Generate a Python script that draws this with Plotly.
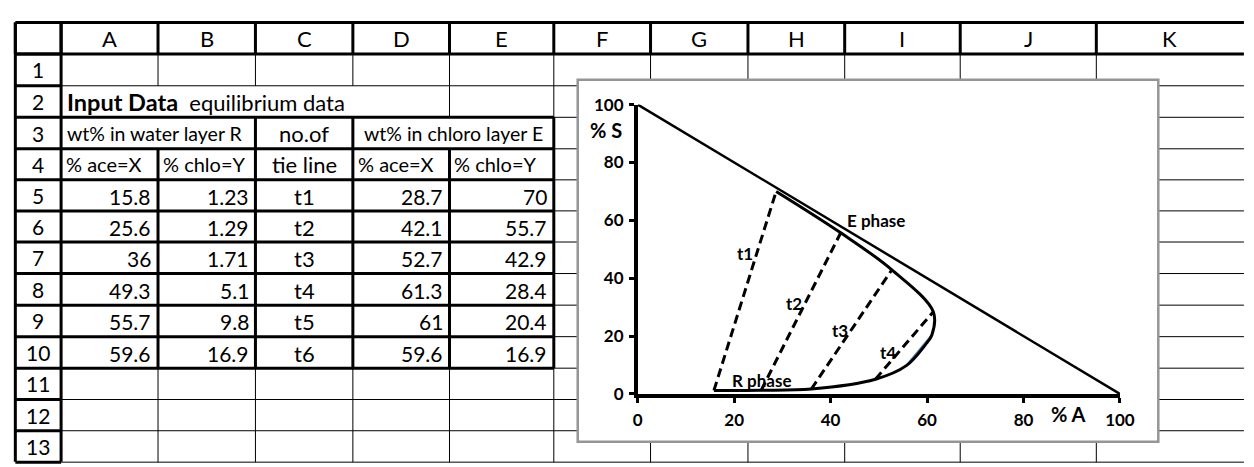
import plotly.graph_objects as go

# ---------------- data ----------------
# equilibrium data, water layer R
r_ace = [15.8, 25.6, 36, 49.3, 55.7, 59.6]
r_chlo = [1.23, 1.29, 1.71, 5.1, 9.8, 16.9]
# tie line names
tie_names = ["t1", "t2", "t3", "t4", "t5", "t6"]
# equilibrium data, chloroform layer E
e_ace = [28.7, 42.1, 52.7, 61.3, 61, 59.6]
e_chlo = [70, 55.7, 42.9, 28.4, 20.4, 16.9]

# pure-component corners of the right-triangle diagram (A = 100 %, S = 100 %)
corner_a = [0, 100]
corner_s = [100, 0]

x_ticks = [0, 20, 40, 60, 80, 100]
y_ticks = [0, 20, 40, 60, 80, 100]

col_letters = ["A", "B", "C", "D", "E", "F", "G", "H", "I", "J", "K"]
row_numbers = list(range(1, 14))

title_bold = "Input Data"
title_rest = "equilibrium data"
group_r = "wt% in water layer R"
group_tie = "no.of"
group_e = "wt% in chloro layer E"
sub_heads = ["% ace=X", "% chlo=Y", "tie line", "% ace=X", "% chlo=Y"]

# ---------------- layout geometry (pixels of the 1254x467 page) ----------------
W, H = 1254, 467
COL_EDGES = [10.5, 57, 155.5, 254.5, 353.5, 451.7, 557.7, 656, 755, 853.3, 970.7, 1109, 1257]
ROW_EDGES = [12, 45, 78.3, 111.3, 144.3, 176.8, 209.3, 241.9, 274.9, 308, 341, 374, 406.8, 439.5, 472.4]
CHART_BOX = (582, 72, 1172, 451)
PLOT_X = (643, 1133)      # page pixel of x=0 and x=100
PLOT_Y = (401, 98)        # page pixel of y=0 and y=100

FONT = "Lato"
TEXT_SIZE = 22
NUM_SIZE = 21
GROUP_SIZE = 19.5
SUB_SIZE = 20
THICK = 3
THIN = 1


def px(x):
    return x / W


def py(y):
    return 1 - y / H


shapes = []


def hline(y, x0, x1, w):
    shapes.append(dict(type="line", xref="paper", yref="paper", x0=px(x0), x1=px(x1),
                       y0=py(y), y1=py(y), line=dict(color="black", width=w), layer="below"))


def vline(x, y0, y1, w):
    shapes.append(dict(type="line", xref="paper", yref="paper", x0=px(x), x1=px(x),
                       y0=py(y0), y1=py(y1), line=dict(color="black", width=w), layer="below"))


C = COL_EDGES
R = ROW_EDGES
right = W + 5
bottom = H + 5

# thin cell grid
for k in range(2, len(R)):
    hline(R[k], C[1], right, THIN)
for j in range(2, len(C) - 1):
    for r in range(1, len(R) - 1):
        y0, y1 = R[r], R[r + 1]
        if r == 2 and j in (2, 3, 4):   # row 2 text overflow A..D
            continue
        if r == 3 and j in (2, 5):      # row 3 merged A:B and D:E
            continue
        vline(C[j], y0, y1, THIN)

# header row
hline(R[0], C[0], right, THICK)
hline(R[1], C[0], right, THICK)
for j in range(0, len(C) - 1):
    vline(C[j], R[0], R[1], THICK)
# row header column
vline(C[0], R[0], bottom, THICK)
vline(C[1], R[0], bottom, THICK)
for k in range(1, len(R)):
    hline(R[k], C[0], C[1], THICK)
# table borders (rows 3..10, columns A..E)
for k in range(3, 12):
    hline(R[k], C[1], C[6], THICK)
vline(C[6], R[3], R[11], THICK)
for j in (3, 4):
    vline(C[j], R[3], R[4], THICK)
for j in (2, 3, 4, 5):
    vline(C[j], R[4], R[11], THICK)

# chart area box
shapes.append(dict(type="rect", xref="paper", yref="paper",
                   x0=px(CHART_BOX[0]), x1=px(CHART_BOX[2]),
                   y0=py(CHART_BOX[3]), y1=py(CHART_BOX[1]),
                   fillcolor="white", line=dict(color="#959595", width=2.5), layer="below"))

annotations = []


def cell_text(text, x, y, anchor="center", size=TEXT_SIZE):
    annotations.append(dict(text=text, x=px(x), y=py(y), xref="paper", yref="paper",
                            xanchor=anchor, yanchor="middle", showarrow=False,
                            font=dict(family=FONT, size=size, color="black")))


def mid(a, b):
    return (a + b) / 2


# column letters
for i, letter in enumerate(col_letters):
    cell_text(letter, mid(C[i + 1], C[i + 2]), mid(R[0], R[1]))
# row numbers
for i, n in enumerate(row_numbers):
    cell_text(str(n), mid(C[0], C[1]), mid(R[i + 1], R[i + 2]), size=NUM_SIZE)

# row 2 title
cell_text("<b><span style='font-size:23.5px'>" + title_bold + "</span></b>\u00a0\u00a0" + title_rest,
          C[1] + 4, mid(R[2], R[3]), anchor="left")
# row 3 group headers
cell_text(group_r, mid(C[1], C[3]) - 3, mid(R[3], R[4]), size=GROUP_SIZE)
cell_text(group_tie, mid(C[3], C[4]), mid(R[3], R[4]))
cell_text(group_e, mid(C[4], C[6]), mid(R[3], R[4]), size=GROUP_SIZE)
# row 4 sub headers
for j, head in enumerate(sub_heads):
    if j == 2:
        cell_text(head, mid(C[3], C[4]), mid(R[4], R[5]))
    else:
        cell_text(head, C[j + 1] + 3, mid(R[4], R[5]), anchor="left", size=SUB_SIZE)


def fmt(v):
    return f"{v:g}"


# rows 5..10 values
for i in range(len(tie_names)):
    yc = mid(R[i + 5], R[i + 6]) + 1
    cell_text(fmt(r_ace[i]), C[2] - 5, yc, anchor="right", size=NUM_SIZE)
    cell_text(fmt(r_chlo[i]), C[3] - 5, yc, anchor="right", size=NUM_SIZE)
    cell_text(tie_names[i], mid(C[3], C[4]), yc)
    cell_text(fmt(e_ace[i]), C[5] - 5, yc, anchor="right", size=NUM_SIZE)
    cell_text(fmt(e_chlo[i]), C[6] - 5, yc, anchor="right", size=NUM_SIZE)

# ---------------- chart ----------------
fig = go.Figure()

# hypotenuse of the triangle
fig.add_trace(go.Scatter(x=corner_a, y=corner_s, mode="lines",
                         line=dict(color="black", width=2.5), hoverinfo="skip"))

# tie line t5 (unformatted series, default blue, mostly under the curve)
fig.add_trace(go.Scatter(x=[r_ace[4], e_ace[4]], y=[r_chlo[4], e_chlo[4]], mode="lines",
                         line=dict(color="#4F81BD", width=2), hoverinfo="skip"))

# solubility (binodal) curve: R phase points, then E phase points back to the top
curve_x, curve_y = [], []
for xv, yv in list(zip(r_ace, r_chlo)) + list(zip(e_ace[::-1], e_chlo[::-1])):
    if curve_x and curve_x[-1] == xv and curve_y[-1] == yv:
        continue
    curve_x.append(xv)
    curve_y.append(yv)
fig.add_trace(go.Scatter(x=curve_x, y=curve_y, mode="lines", line_shape="spline",
                         line=dict(color="black", width=3, smoothing=1), hoverinfo="skip"))

# tie lines t1..t4 dashed
for i in range(4):
    fig.add_trace(go.Scatter(x=[r_ace[i], e_ace[i]], y=[r_chlo[i], e_chlo[i]], mode="lines",
                             line=dict(color="black", width=3, dash="9px,5px"), hoverinfo="skip"))

# in-plot labels (data coordinates)
label_font = dict(family=FONT, size=17, color="black", weight="bold")
plot_labels = [
    ("E phase", 49.4, 60.1),
    ("R phase", 25.7, 4.8),
    (tie_names[0], 22.2, 48.5),
    (tie_names[1], 32.4, 31.1),
    (tie_names[2], 41.9, 21.8),
    (tie_names[3], 51.8, 14.3),
]
for text, xv, yv in plot_labels:
    annotations.append(dict(text=text, x=xv, y=yv, xref="x", yref="y", showarrow=False,
                            xanchor="center", yanchor="middle", font=label_font))

# axis titles
title_font = dict(family=FONT, size=20, color="black", weight="bold")
annotations.append(dict(text="% S", x=px(611), y=py(125), xref="paper", yref="paper",
                        showarrow=False, xanchor="center", yanchor="middle", font=title_font))
annotations.append(dict(text="% A", x=px(1081), y=py(422), xref="paper", yref="paper",
                        showarrow=False, xanchor="center", yanchor="middle", font=title_font))

axis_common = dict(range=[0, 100], showline=True, linecolor="black", linewidth=3.5,
                   ticks="outside", ticklen=5, tickwidth=3, tickcolor="black",
                   showgrid=False, zeroline=False, fixedrange=True,
                   tickfont=dict(family=FONT, size=17, color="black", weight="bold"))

fig.update_layout(
    width=W, height=H,
    margin=dict(l=0, r=0, t=0, b=0),
    paper_bgcolor="white",
    plot_bgcolor="rgba(0,0,0,0)",
    showlegend=False,
    xaxis=dict(domain=[px(PLOT_X[0]), px(PLOT_X[1])], tickvals=x_ticks,
               ticklabelstandoff=3, **axis_common),
    yaxis=dict(domain=[py(PLOT_Y[0]), py(PLOT_Y[1])], tickvals=y_ticks,
               ticklabelstandoff=2, **axis_common),
    shapes=shapes,
    annotations=annotations,
)

fig.write_html("out.html", config={"displayModeBar": False},
               post_script="document.body.style.margin='0';document.body.style.overflow='hidden';")
